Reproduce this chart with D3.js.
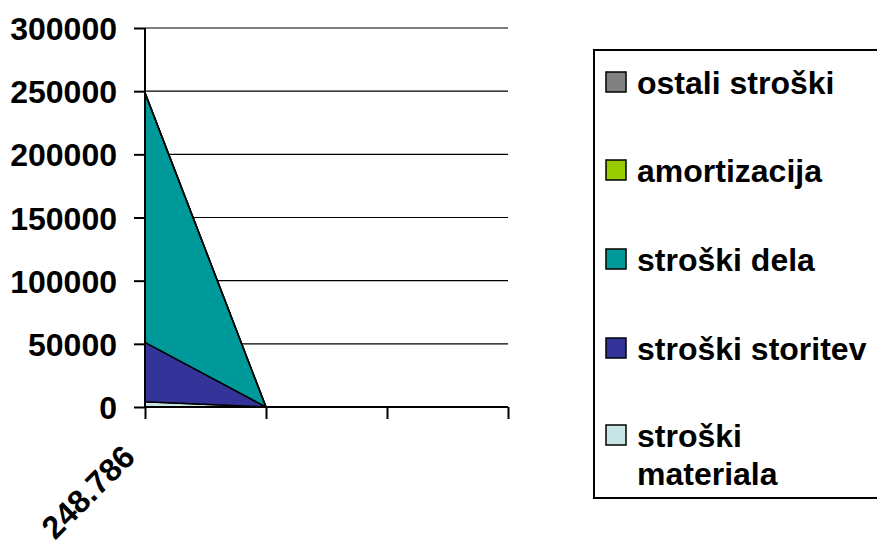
<!DOCTYPE html>
<html><head><meta charset="utf-8">
<script src="https://cdn.jsdelivr.net/npm/d3@7"></script>
<style>body{margin:0;background:#fff;overflow:hidden}text{font-family:Arial,"Liberation Sans",sans-serif;font-weight:bold}</style>
</head><body><svg id="c" width="877" height="540"></svg>
<script>
const categoryLabels = ["248.786", "", "", ""];
const seriesNames = ["stroški materiala", "stroški storitev", "stroški dela", "amortizacija", "ostali stroški"];
const seriesColors = ["#c6e6e6", "#333399", "#009999", "#99cc00", "#808080"];
const materiala = [4200, 0, null, null];
const storitev = [47000, 0, null, null];
const dela = [197586, 0, null, null];
const amortizacija = [0, 0, null, null];
const ostali = [0, 0, null, null];
const yTicks = [0, 50000, 100000, 150000, 200000, 250000, 300000];

const seriesValues = [materiala, storitev, dela, amortizacija, ostali];
const svg = d3.select("#c");
const L = 145, R = 508, T = 28, B = 407;
const x = d3.scalePoint().domain(d3.range(categoryLabels.length)).range([L, R]);
const y = d3.scaleLinear().domain([0, 300000]).range([B, T]);

svg.append("g").selectAll("line").data(yTicks.filter(d => d > 0)).join("line")
  .attr("x1", L).attr("x2", R).attr("y1", d => y(d)).attr("y2", d => y(d))
  .attr("stroke", "#000").attr("stroke-width", 1.2);

const rows = categoryLabels.map((c, i) => {
  const r = {i};
  seriesNames.forEach((s, k) => r[s] = seriesValues[k][i]);
  return r;
}).filter(r => r[seriesNames[0]] !== null);
const stack = d3.stack().keys(seriesNames)(rows);
const area = d3.area().x(d => x(d.data.i)).y0(d => y(d[0])).y1(d => y(d[1]));
svg.append("g").selectAll("path").data(stack).join("path")
  .attr("d", area).attr("fill", (d, k) => seriesColors[k])
  .attr("stroke", "#000").attr("stroke-width", 1.5).attr("stroke-linejoin", "round");

const yAxis = svg.append("g").attr("transform", `translate(${L},0)`)
  .call(d3.axisLeft(y).tickValues(yTicks).tickSize(11).tickPadding(17).tickFormat(d3.format("d")));
const xAxis = svg.append("g").attr("transform", `translate(0,${B})`)
  .call(d3.axisBottom(x).tickSize(12).tickFormat(() => ""));
[yAxis, xAxis].forEach(a => {
  a.select(".domain").attr("stroke", "#000").attr("stroke-width", 2);
  a.selectAll(".tick line").attr("stroke", "#000").attr("stroke-width", 2);
});
yAxis.select(".domain").attr("d", `M0,${B}V${T}`);
xAxis.select(".domain").attr("d", `M${L},0H${R}`);
yAxis.selectAll(".tick text").attr("font-size", 32).attr("fill", "#000")
  .attr("font-family", "Arial, 'Liberation Sans', sans-serif").attr("font-weight", "bold").attr("dy", "0.36em");

svg.append("g").selectAll("text").data(categoryLabels.map((c, i) => ({c, i})).filter(d => d.c)).join("text")
  .attr("transform", d => `translate(${x(d.i) - 24},${B + 36}) rotate(-45)`)
  .attr("text-anchor", "end").attr("font-size", 32).attr("dy", "0.7em").text(d => d.c);

const lg = svg.append("g");
lg.append("path").attr("d", "M880,50H594V498H880")
  .attr("fill", "#fff").attr("stroke", "#000").attr("stroke-width", 2);
const legendItems = seriesNames.map((s, k) => ({s, k})).reverse();
const rowY = [82, 170, 259, 348, 435];
legendItems.forEach((d, j) => {
  const g = lg.append("g").attr("transform", `translate(0,${rowY[j]})`);
  g.append("rect").attr("x", 606).attr("y", -10).attr("width", 20).attr("height", 20)
    .attr("fill", seriesColors[d.k]).attr("stroke", "#000").attr("stroke-width", 1.5);
  const words = d.s === "stroški materiala" ? ["stroški", "materiala"] : [d.s];
  const t = g.append("text").attr("x", 637).attr("y", 0).attr("font-size", 32);
  words.forEach((w, wi) => t.append("tspan").attr("x", 637).attr("dy", wi === 0 ? "0.36em" : "1.2em").text(w));
});
</script></body></html>
